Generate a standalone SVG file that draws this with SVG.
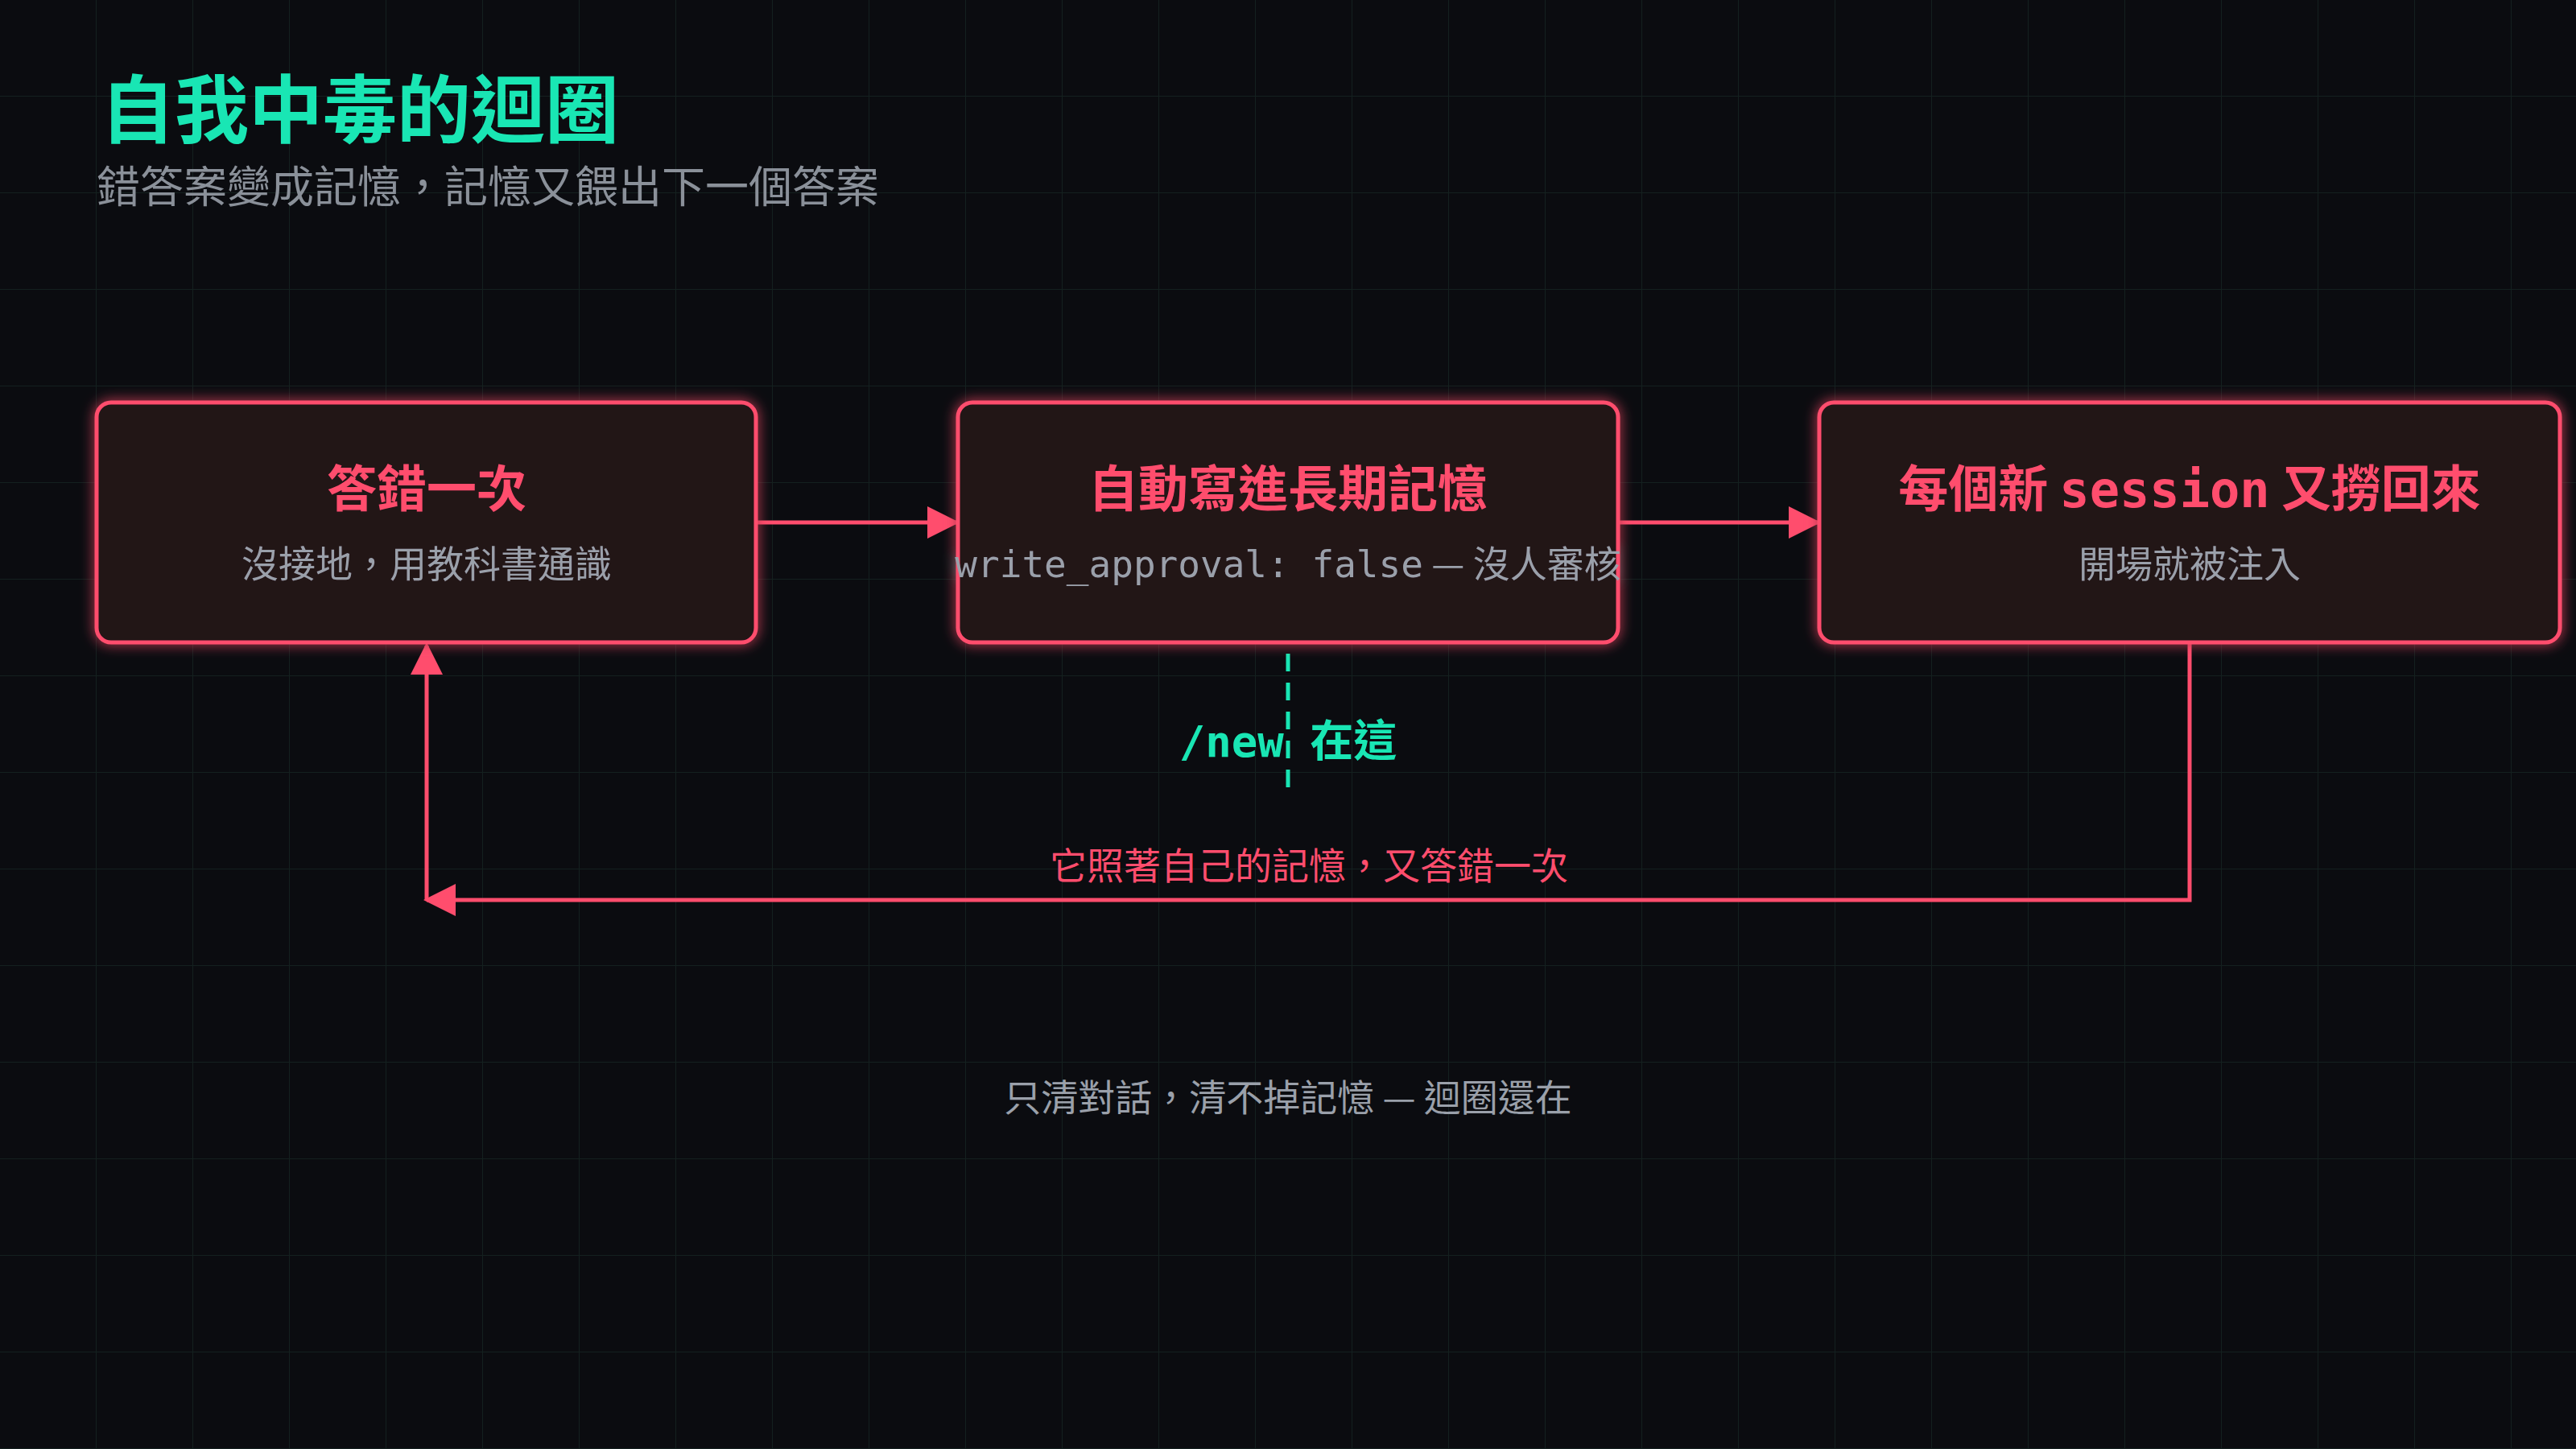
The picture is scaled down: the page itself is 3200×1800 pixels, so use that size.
<svg xmlns="http://www.w3.org/2000/svg" width="3200" height="1800" viewBox="0 0 3200 1800">
<defs>
<pattern id="grid" width="120" height="120" patternUnits="userSpaceOnUse"><path d="M120 0V120H0" fill="none" stroke="#14201f" stroke-width="2"/></pattern>
<filter id="glow" x="-10%" y="-20%" width="120%" height="140%"><feGaussianBlur stdDeviation="8" result="b"/><feMerge><feMergeNode in="b"/><feMergeNode in="SourceGraphic"/></feMerge></filter>
<marker id="ah" viewBox="0 0 10 10" refX="9" refY="5" markerWidth="10" markerHeight="10" markerUnits="userSpaceOnUse" orient="auto"><path d="M0 0L10 5L0 10z" fill="#ff4d6d"/></marker>
<marker id="ahb" viewBox="0 0 10 10" refX="9" refY="5" markerWidth="44" markerHeight="40" markerUnits="userSpaceOnUse" orient="auto"><path d="M0 0L10 5L0 10z" fill="#ff4d6d"/></marker>
<style>
.box{fill:#241219;stroke:#ff4d6d;stroke-width:5}
.t{font-family:"Noto Sans CJK TC","Noto Sans",sans-serif;font-weight:700;font-size:62px;fill:#ff4d6d;text-anchor:middle}
.s{font-family:"Noto Sans CJK TC","Noto Sans",sans-serif;font-size:46px;fill:#9aa0aa;text-anchor:middle}
.mono{font-family:"DejaVu Sans Mono","Noto Sans CJK TC",monospace}
.c{fill:none;stroke:#ff4d6d;stroke-width:5}
</style>
</defs>
<rect width="3200" height="1800" fill="#0b0c10"/>
<rect width="3200" height="1800" fill="url(#grid)"/>
<text x="125" y="170" font-family="'Noto Sans CJK TC',sans-serif" font-weight="700" font-size="92" fill="#19e6b4">自我中毒的迴圈</text>
<text x="120" y="252" font-family="'Noto Sans CJK TC',sans-serif" font-size="54" fill="#8a9099">錯答案變成記憶，記憶又餵出下一個答案</text>
<g id="connectors">
<line class="c" x1="940" y1="649" x2="1188" y2="649" marker-end="url(#ahb)"/>
<line class="c" x1="2010" y1="649" x2="2258" y2="649" marker-end="url(#ahb)"/>
<polyline class="c" points="2720,800 2720,1118 530,1118" marker-end="url(#ahb)"/>
<line class="c" x1="530" y1="1118" x2="530" y2="802" marker-end="url(#ahb)"/>
<line x1="1600" y1="812" x2="1600" y2="980" stroke="#19e6b4" stroke-width="5" stroke-dasharray="22,14"/>
<text x="1626" y="1092" font-family="'Noto Sans CJK TC',sans-serif" font-size="46" fill="#ff4d6d" text-anchor="middle">它照著自己的記憶，又答錯一次</text>
</g>
<g id="n1" filter="url(#glow)">
<rect class="box" x="120" y="500" width="819" height="298" rx="18"/>
<text class="t" x="530" y="630">答錯一次</text>
<text class="s" x="530" y="717">沒接地，用教科書通識</text>
</g>
<g id="n2" filter="url(#glow)">
<rect class="box" x="1190" y="500" width="820" height="298" rx="18"/>
<text class="t" x="1600" y="630">自動寫進長期記憶</text>
<text class="s" x="1600" y="717"><tspan class="mono">write_approval: false</tspan> — 沒人審核</text>
</g>
<g id="n3" filter="url(#glow)">
<rect class="box" x="2260" y="500" width="920" height="298" rx="18"/>
<text class="t" x="2720" y="630">每個新 <tspan class="mono">session</tspan> 又撈回來</text>
<text class="s" x="2720" y="717">開場就被注入</text>
</g>
<g id="note">
<text x="1600" y="940" font-family="'DejaVu Sans Mono','Noto Sans CJK TC',monospace" font-weight="700" font-size="54" fill="#19e6b4" text-anchor="middle">/new 在這</text>
</g>
<text x="1600" y="1380" font-family="'Noto Sans CJK TC',sans-serif" font-size="46" fill="#9aa0aa" text-anchor="middle">只清對話，清不掉記憶 — 迴圈還在</text>
</svg>
